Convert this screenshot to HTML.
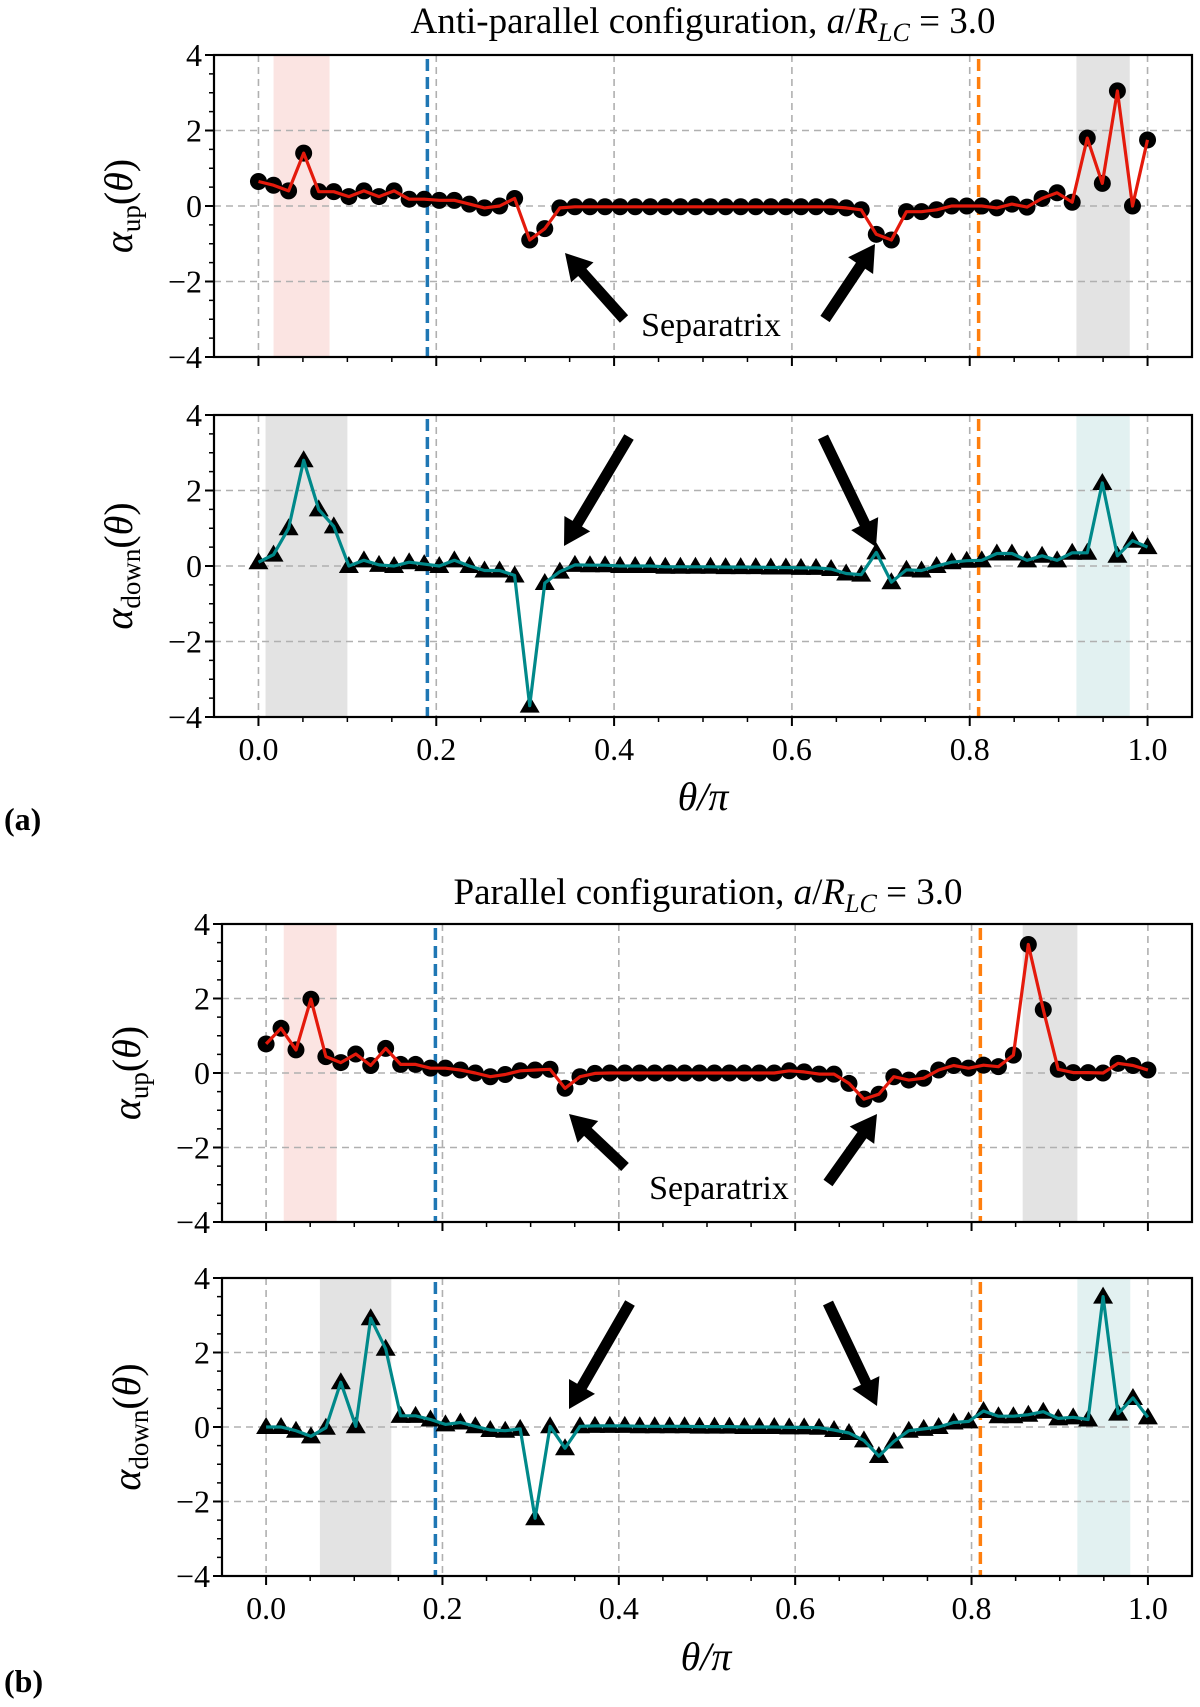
<!DOCTYPE html>
<html><head><meta charset="utf-8"><style>
html,body{margin:0;padding:0;background:#fff;}
svg{display:block;font-family:"Liberation Serif",serif;}
</style></head><body>
<svg id="fig" width="1200" height="1707" viewBox="0 0 1200 1707" xmlns="http://www.w3.org/2000/svg">
<text x="703" y="33" font-size="37" text-anchor="middle">Anti-parallel configuration,  <tspan font-style="italic">a</tspan>/<tspan font-style="italic">R</tspan><tspan font-style="italic" font-size="26" dy="8">LC</tspan><tspan dy="-8"> = 3.0</tspan></text>
<text x="708" y="904" font-size="37" text-anchor="middle">Parallel configuration,  <tspan font-style="italic">a</tspan>/<tspan font-style="italic">R</tspan><tspan font-style="italic" font-size="26" dy="8">LC</tspan><tspan dy="-8"> = 3.0</tspan></text>
<text x="703" y="810" font-size="40" font-style="italic" text-anchor="middle">θ/π</text>
<text x="706" y="1670" font-size="40" font-style="italic" text-anchor="middle">θ/π</text>
<text x="4" y="830" font-size="32" font-weight="bold">(a)</text>
<text x="4" y="1692" font-size="32" font-weight="bold">(b)</text>
</svg>
<script>
const thetaCount = 60;
const upAnti = [0.65,0.55,0.4,1.4,0.38,0.38,0.25,0.4,0.25,0.4,0.18,0.18,0.15,0.15,0.05,-0.05,0.0,0.2,-0.9,-0.6,-0.05,
 -0.02,-0.02,-0.02,-0.02,-0.02,-0.02,-0.02,-0.02,-0.02,-0.02,-0.02,-0.02,-0.02,-0.02,-0.02,-0.02,-0.02,-0.02,
 -0.05,-0.1,-0.75,-0.9,-0.15,-0.15,-0.1,0,0,0,-0.05,0.05,-0.03,0.2,0.35,0.1,1.8,0.6,3.05,0,1.75];
const downAnti = [0.1,0.3,1.0,2.8,1.5,1.05,0.0,0.15,0.03,0.0,0.1,0.05,0.0,0.15,0.0,-0.12,-0.12,-0.25,-3.7,-0.45,-0.15,
 0.03,0.02,0.02,0.0,0.0,0.0,-0.02,-0.02,-0.02,-0.02,-0.03,-0.03,-0.03,-0.04,-0.04,
 -0.05,-0.05,-0.08,-0.2,-0.23,0.36,-0.43,-0.1,-0.12,0.0,0.1,0.14,0.15,0.33,0.33,0.15,0.27,0.15,0.35,0.35,2.2,0.27,0.67,0.5];
const upPar = [0.78,1.2,0.62,1.98,0.44,0.28,0.51,0.2,0.66,0.23,0.23,0.13,0.13,0.08,0.0,-0.1,-0.04,0.06,0.08,0.1,-0.41,-0.1,-0.01,
 0,0,0,0,0,0,0,0,0,0,0,
 0.0,0.06,0.03,-0.03,-0.03,-0.28,-0.7,-0.57,-0.1,-0.19,-0.14,0.08,0.2,0.13,0.21,0.17,0.48,3.45,1.7,0.1,0.01,0.01,0.0,0.26,0.2,0.08];
const downPar = [0.0,0.0,-0.1,-0.25,-0.02,1.2,0.02,2.92,2.1,0.3,0.3,0.2,0.07,0.12,0.02,-0.08,-0.1,-0.05,-2.45,0.02,-0.57,0.02,
 0.03,0.03,0.03,0.02,0.02,0.02,0.02,0.01,0.01,0.01,0.0,0.0,0.0,-0.01,-0.01,
 -0.02,-0.08,-0.16,-0.36,-0.78,-0.39,-0.1,-0.05,0.0,0.12,0.15,0.43,0.29,0.29,0.33,0.41,0.23,0.26,0.2,3.5,0.36,0.78,0.26];
const xTickLabels = ["0.0","0.2","0.4","0.6","0.8","1.0"];
const yTickLabels = ["−4","−2","0","2","4"];
const spansP1 = [[0.017,0.08,"#fbe4e2"],[0.92,0.98,"#e3e3e3"]];
const spansP2 = [[0.008,0.1,"#e3e3e3"],[0.92,0.98,"#e2f1f1"]];
const spansP3 = [[0.02,0.08,"#fbe4e2"],[0.858,0.92,"#e3e3e3"]];
const spansP4 = [[0.061,0.142,"#e3e3e3"],[0.92,0.98,"#e2f1f1"]];
const vlinesA = [0.19,0.81];
const vlinesB = [0.192,0.81];

const NS="http://www.w3.org/2000/svg";
const svg=document.getElementById('fig');
function mk(tag,attrs,parent){const e=document.createElementNS(NS,tag);for(const k in attrs)e.setAttribute(k,attrs[k]);(parent||svg).appendChild(e);return e;}

function panel(cfg){
  const {L,R,T,B,data,kind,spans,vlines,name,sub,showX}=cfg;
  const g=mk('g',{});
  
  
  const xs=v=>L+(v+0.05)/1.1*(R-L);
  const ys=v=>B-(v+4)/8*(B-T);
  spans.forEach((s,i)=>{
    const r=mk('rect',{x:xs(s[0]),y:T,width:xs(s[1])-xs(s[0]),height:B-T,fill:s[2]},g);
    
    
  });
  for(let i=0;i<=5;i++){const x=xs(i*0.2);const l=mk('line',{x1:x,x2:x,y1:T,y2:B,stroke:'#b0b0b0','stroke-width':1.6,'stroke-dasharray':'7,5'},g);
    }
  for(let i=0;i<5;i++){const y=ys(-4+2*i);const l=mk('line',{x1:L,x2:R,y1:y,y2:y,stroke:'#b0b0b0','stroke-width':1.6,'stroke-dasharray':'7,5'},g);
    }
  const vcol=['#1f77b4','#ff7f0e'];
  vlines.forEach((v,i)=>{const l=mk('line',{x1:xs(v),x2:xs(v),y1:T+4,y2:B,stroke:vcol[i],'stroke-width':3.5,'stroke-dasharray':'12,6'},g);
    });
  const col=kind==='up'?'#e41a0c':'#00898a';
  const mg=mk('g',{},g);
  
  
  data.forEach((v,i)=>{
    const x=xs(i/(thetaCount-1)),y=ys(v);
    let m;
    if(kind==='up') m=mk('circle',{cx:x,cy:y,r:8.5,fill:'#000'},mg);
    else m=mk('polygon',{points:`${x},${y-10} ${x-10},${y+7} ${x+10},${y+7}`,fill:'#000'},mg);
    
    
  });
  const pts=data.map((v,i)=>xs(i/(thetaCount-1)).toFixed(1)+','+ys(v).toFixed(1)).join(' ');
  const pl=mk('polyline',{points:pts,fill:'none',stroke:col,'stroke-width':3.2,'stroke-linejoin':'round'},g);
  
  
  const sp=mk('rect',{x:L,y:T,width:R-L,height:B-T,fill:'none',stroke:'#000','stroke-width':2.2},g);
  
  for(let i=0;i<=20;i++){const v=i*0.05;const x=xs(v);const major=i%4===0;
    const t=mk('line',{x1:x,x2:x,y1:B,y2:B+(major?9:5),stroke:'#000','stroke-width':major?2:1.5},g);
    }
  if(showX){xTickLabels.forEach((s,i)=>{const t=mk('text',{x:xs(i*0.2),y:B+43,'font-size':32,'text-anchor':'middle'},g);t.textContent=s;
    });}
  for(let i=0;i<=16;i++){const v=-4+i*0.5;const y=ys(v);const major=i%4===0;
    const t=mk('line',{x1:L-(major?9:5),x2:L,y1:y,y2:y,stroke:'#000','stroke-width':major?2:1.5},g);
    }
  yTickLabels.forEach((s,i)=>{const t=mk('text',{x:L-12,y:ys(-4+2*i)+11,'font-size':32,'text-anchor':'end'},g);t.textContent=s;
    });
  const cy=(T+B)/2;
  const yl=mk('text',{x:0,y:0,'font-size':40,'text-anchor':'middle',transform:`translate(${L-82},${cy}) rotate(-90)`},g);
  
  const a=mk('tspan',{'font-style':'italic'},yl);a.textContent='α';
  const s2=mk('tspan',{'font-size':27,dy:8},yl);s2.textContent=sub;
  const s3=mk('tspan',{dy:-8},yl);s3.innerHTML='(<tspan font-style="italic">θ</tspan>)';
  return {xs,ys};
}
function arrow(x1,y1,x2,y2,name){
  const dx=x2-x1,dy=y2-y1,len=Math.hypot(dx,dy),ux=dx/len,uy=dy/len,nx=-uy,ny=ux;
  const hl=26,hw=15,sw=5.5;
  const bx=x2-ux*hl,by=y2-uy*hl;
  const p=[[x1+nx*sw,y1+ny*sw],[bx+nx*sw,by+ny*sw],[bx+nx*hw,by+ny*hw],[x2,y2],[bx-nx*hw,by-ny*hw],[bx-nx*sw,by-ny*sw],[x1-nx*sw,y1-ny*sw]];
  const e=mk('polygon',{points:p.map(q=>q[0].toFixed(1)+','+q[1].toFixed(1)).join(' '),fill:'#000'});
  
  
}
panel({L:214,R:1192,T:55,B:357,data:upAnti,kind:'up',spans:spansP1,vlines:vlinesA,name:'panel-a-alpha-up',sub:'up',showX:false});
panel({L:214,R:1192,T:415,B:717,data:downAnti,kind:'down',spans:spansP2,vlines:vlinesA,name:'panel-a-alpha-down',sub:'down',showX:true});
panel({L:222,R:1192,T:924,B:1222,data:upPar,kind:'up',spans:spansP3,vlines:vlinesB,name:'panel-b-alpha-up',sub:'up',showX:false});
panel({L:222,R:1192,T:1278,B:1576,data:downPar,kind:'down',spans:spansP4,vlines:vlinesB,name:'panel-b-alpha-down',sub:'down',showX:true});
arrow(624,319,565,253,'separatrix-arrow');
arrow(825,319,875,244,'separatrix-arrow');
arrow(629,437,564,546,'separatrix-arrow');
arrow(823,437,876,547,'separatrix-arrow');
arrow(625,1167,569,1114,'separatrix-arrow');
arrow(828,1183,877,1114,'separatrix-arrow');
arrow(630,1303,569,1409,'separatrix-arrow');
arrow(828,1303,877,1406,'separatrix-arrow');
const t1=mk('text',{x:711,y:336,'font-size':34,'text-anchor':'middle'});t1.textContent='Separatrix';


const t2=mk('text',{x:719,y:1199,'font-size':34,'text-anchor':'middle'});t2.textContent='Separatrix';


</script>
</body></html>
